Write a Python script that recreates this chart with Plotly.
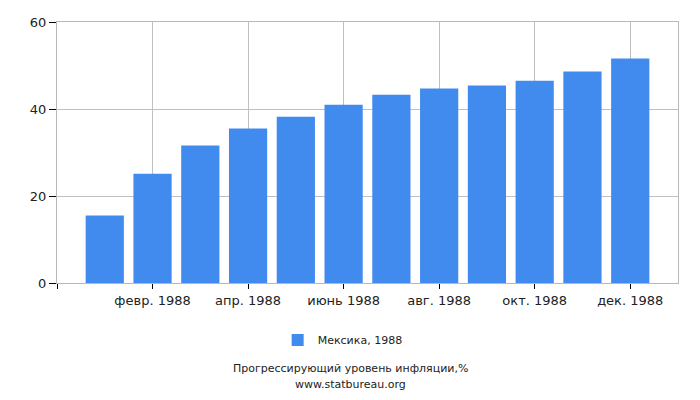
import plotly.graph_objects as go

months = ["янв. 1988", "февр. 1988", "март 1988", "апр. 1988", "май 1988", "июнь 1988",
          "июль 1988", "авг. 1988", "сент. 1988", "окт. 1988", "нояб. 1988", "дек. 1988"]
inflation = [15.5, 25.1, 31.6, 35.5, 38.2, 41.0, 43.3, 44.7, 45.4, 46.5, 48.6, 51.6]
series_name = "Мексика, 1988"
y_ticks = [0, 20, 40, 60]

x_pos = list(range(len(months)))
tick_pos = [-1] + x_pos[1::2]
tick_text = [""] + months[1::2]

fig = go.Figure()
fig.add_trace(go.Bar(x=x_pos, y=inflation, name=series_name, width=0.8,
                     marker={"color": "#428bee", "line": {"width": 0}}))

font = "DejaVu Sans, sans-serif"
fig.update_xaxes(
    range=[-1, 12], tickvals=tick_pos, ticktext=tick_text,
    showgrid=True, gridcolor="#c0c0c0", gridwidth=1,
    showline=True, linecolor="#b8b8b8", linewidth=1, mirror=True,
    ticks="outside", ticklen=5, tickcolor="#000000", zeroline=False,
    tickfont={"size": 13, "color": "#222222", "family": font},
)
fig.update_yaxes(
    range=[0, 60], tickvals=y_ticks,
    showgrid=True, gridcolor="#c0c0c0", gridwidth=1,
    showline=True, linecolor="#b8b8b8", linewidth=1, mirror=True,
    ticks="outside", ticklen=7, tickcolor="#000000", zeroline=False,
    tickfont={"size": 13, "color": "#222222", "family": font},
)

# caption lines under the legend (centred on the page, not the plot area)
fig.add_annotation(text="Прогрессирующий уровень инфляции,%", xref="paper", yref="paper",
                   x=0.472, y=-0.3295, yanchor="middle", showarrow=False,
                   font={"size": 11, "color": "#222222", "family": font})
fig.add_annotation(text="www.statbureau.org", xref="paper", yref="paper",
                   x=0.472, y=-0.387, yanchor="middle", showarrow=False,
                   font={"size": 11, "color": "#222222", "family": font})

fig.update_layout(
    width=700, height=400,
    margin={"l": 57, "r": 22, "t": 22, "b": 117},
    plot_bgcolor="white", paper_bgcolor="white",
    showlegend=True,
    legend={"orientation": "h", "x": 0.46, "xanchor": "center", "y": -0.218, "yanchor": "middle",
            "font": {"size": 11, "color": "#222222", "family": font}},
)

fig.write_html("out.html", config={"displayModeBar": False},
               post_script="document.body.style.margin='0';document.body.style.overflow='hidden';")
